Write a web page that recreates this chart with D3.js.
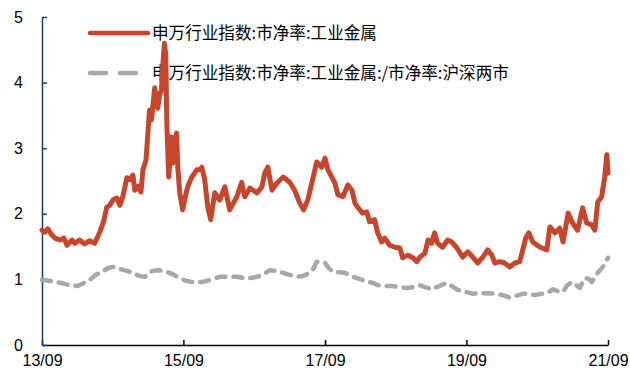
<!DOCTYPE html>
<html>
<head>
<meta charset="utf-8">
<script src="https://cdn.jsdelivr.net/npm/d3@7/dist/d3.min.js"></script>
<style>
  html, body { margin: 0; padding: 0; background: #fff; }
  svg { display: block; }
  .tick text { font-family: "Liberation Sans", Arial, sans-serif; font-size: 16px; fill: #000; }
  .legend text { font-family: "Noto Sans CJK SC", sans-serif; font-size: 16.6px; fill: #000; }
</style>
</head>
<body>
<svg id="chart" width="630" height="374"></svg>
<script>
// 申万工业金属 市净率 (PB) series
const pbDates = [
  "2013-09-01","2013-09-16","2013-10-01","2013-10-21","2013-11-07","2013-12-02","2013-12-23","2014-01-08",
  "2014-02-03","2014-02-18","2014-03-14","2014-04-09","2014-05-05","2014-05-31","2014-06-26","2014-07-16",
  "2014-08-01","2014-08-17","2014-09-02","2014-09-22","2014-10-08","2014-10-23","2014-11-13","2014-11-29",
  "2014-12-14","2014-12-24","2015-01-09","2015-01-25","2015-02-04","2015-02-20","2015-03-01","2015-03-10",
  "2015-03-20","2015-04-06","2015-04-21","2015-05-01","2015-05-11","2015-05-16","2015-05-26","2015-06-02",
  "2015-06-07","2015-06-17","2015-07-02","2015-07-07","2015-07-17","2015-07-28","2015-08-03","2015-08-13",
  "2015-08-28","2015-09-13","2015-09-23","2015-10-14","2015-11-09","2015-11-24","2015-12-05","2015-12-20",
  "2016-01-05","2016-01-20","2016-02-10","2016-03-06","2016-04-02","2016-04-27","2016-06-03","2016-06-28",
  "2016-07-14","2016-08-09","2016-09-15","2016-10-10","2016-10-25","2016-11-10","2016-12-01","2016-12-27",
  "2017-01-28","2017-03-03","2017-03-28","2017-04-24","2017-05-14","2017-06-04","2017-06-29","2017-07-20",
  "2017-08-15","2017-09-01","2017-09-16","2017-10-06","2017-10-22","2017-11-07","2017-12-02","2017-12-28",
  "2018-01-18","2018-02-03","2018-02-17","2018-03-14","2018-04-04","2018-04-19","2018-05-15","2018-05-31",
  "2018-06-20","2018-07-06","2018-08-01","2018-08-27","2018-09-22","2018-10-07","2018-11-03","2018-11-28",
  "2018-12-19","2019-01-04","2019-01-30","2019-02-15","2019-03-05","2019-03-21","2019-04-05","2019-05-01",
  "2019-05-27","2019-06-17","2019-07-12","2019-08-13","2019-09-08","2019-10-04","2019-10-29","2019-11-25",
  "2019-12-20","2020-01-10","2020-01-26","2020-02-21","2020-03-16","2020-04-12","2020-05-08","2020-06-02",
  "2020-06-18","2020-07-03","2020-07-19","2020-08-09","2020-09-15","2020-10-20","2020-11-05","2020-12-01",
  "2020-12-26","2021-01-12","2021-02-07","2021-03-02","2021-03-28","2021-04-23","2021-05-14","2021-06-09",
  "2021-06-25","2021-07-10","2021-07-30","2021-08-15","2021-08-26","2021-09-01"
];
const pbValues = [
  1.75,1.72,1.77,1.68,1.63,1.60,1.63,1.52,
  1.60,1.55,1.60,1.54,1.59,1.55,1.72,1.88,
  2.10,2.13,2.21,2.24,2.13,2.26,2.55,2.52,
  2.59,2.36,2.42,2.33,2.67,2.82,3.20,3.58,
  3.43,3.92,3.61,3.81,3.89,4.19,4.60,4.42,
  3.43,2.56,3.17,2.77,2.97,3.23,2.71,2.32,
  2.06,2.29,2.41,2.56,2.67,2.67,2.71,2.52,
  2.10,1.91,2.32,2.21,2.41,2.06,2.26,2.48,
  2.26,2.39,2.32,2.41,2.62,2.71,2.36,2.47,
  2.56,2.48,2.36,2.16,2.06,2.21,2.52,2.79,
  2.71,2.85,2.67,2.56,2.47,2.29,2.26,2.44,
  2.36,2.16,2.10,2.01,2.03,1.88,1.91,1.71,
  1.57,1.63,1.52,1.49,1.48,1.33,1.37,1.33,
  1.27,1.34,1.40,1.60,1.55,1.71,1.55,1.49,
  1.60,1.57,1.49,1.34,1.42,1.34,1.25,1.34,
  1.45,1.37,1.25,1.27,1.25,1.19,1.25,1.27,
  1.45,1.63,1.71,1.57,1.49,1.45,1.80,1.71,
  1.78,1.57,2.01,1.86,1.75,2.09,1.86,1.83,
  1.75,2.18,2.26,2.56,2.90,2.62
];

// 工业金属 PB relative to 沪深两市 PB
const ratioDates = [
  "2013-09-01","2013-10-11","2013-12-02","2014-01-23","2014-03-04","2014-04-09","2014-05-05","2014-06-05",
  "2014-07-06","2014-08-06","2014-09-02","2014-10-08","2014-11-13","2014-12-14","2015-01-19","2015-02-14",
  "2015-03-10","2015-03-26","2015-04-21","2015-05-16","2015-06-12","2015-07-07","2015-08-13","2015-09-13",
  "2015-10-14","2015-11-14","2015-12-10","2016-01-15","2016-02-10","2016-03-11","2016-04-12","2016-05-12",
  "2016-06-07","2016-07-08","2016-08-09","2016-09-15","2016-10-15","2016-11-20","2016-12-27","2017-01-28",
  "2017-03-03","2017-04-08","2017-05-09","2017-06-14","2017-07-05","2017-07-20","2017-08-10","2017-09-01",
  "2017-09-21","2017-10-12","2017-11-12","2017-12-13","2018-01-13","2018-02-13","2018-03-25","2018-04-30",
  "2018-06-05","2018-07-06","2018-08-12","2018-09-22","2018-10-28","2018-11-28","2019-01-04","2019-02-04",
  "2019-03-05","2019-04-15","2019-05-22","2019-06-17","2019-07-18","2019-08-28","2019-10-04","2019-11-09",
  "2019-12-20","2020-01-26","2020-03-07","2020-04-12","2020-05-13","2020-06-18","2020-07-19","2020-08-19",
  "2020-09-20","2020-10-20","2020-11-21","2020-12-16","2021-01-12","2021-02-02","2021-03-02","2021-03-23",
  "2021-04-08","2021-05-04","2021-05-24","2021-06-09","2021-07-10","2021-08-05","2021-08-21","2021-09-01"
];
const ratioValues = [
  0.99,0.98,0.95,0.91,0.90,0.95,0.99,1.07,
  1.11,1.17,1.19,1.16,1.13,1.10,1.05,1.04,
  1.10,1.13,1.14,1.13,1.11,1.08,1.02,0.98,
  0.96,0.96,0.96,0.99,1.02,1.04,1.04,1.04,
  1.04,1.02,1.02,1.04,1.07,1.14,1.13,1.10,
  1.07,1.04,1.05,1.10,1.17,1.27,1.27,1.25,
  1.17,1.11,1.11,1.10,1.05,1.02,0.98,0.95,
  0.91,0.90,0.90,0.88,0.87,0.88,0.91,0.88,
  0.85,0.90,0.95,0.90,0.84,0.81,0.78,0.79,
  0.79,0.78,0.76,0.72,0.75,0.78,0.78,0.76,
  0.78,0.79,0.85,0.82,0.81,0.91,0.96,0.91,
  0.87,1.02,1.01,0.96,1.10,1.19,1.27,1.33
];

const xTickDates = ["2013-09-01","2015-09-01","2017-09-01","2019-09-01","2021-09-01"];
const xTickLabels = ["13/09","15/09","17/09","19/09","21/09"];
const yTicks = [0, 1, 2, 3, 4, 5];
const seriesNames = ["申万行业指数:市净率:工业金属", "申万行业指数:市净率:工业金属:/市净率:沪深两市"];

const parse = d3.timeParse("%Y-%m-%d");
const pbData = pbDates.map((d, i) => ({ date: parse(d), value: pbValues[i] }));
const ratioData = ratioDates.map((d, i) => ({ date: parse(d), value: ratioValues[i] }));

const margin = { left: 42, top: 17, right: 22, bottom: 29 };
const width = 630, height = 374;
const svg = d3.select("#chart");

const x = d3.scaleTime()
  .domain([parse(xTickDates[0]), parse(xTickDates[xTickDates.length - 1])])
  .range([margin.left, width - margin.right]);
const y = d3.scaleLinear()
  .domain([0, 5])
  .range([height - margin.bottom, margin.top]);

// legend sits beneath the plotted lines
const legend = svg.append("g").attr("class", "legend");
const legendRows = [
  { y: 33, color: "#C8442A", dash: null, width: 4.5 },
  { y: 73, color: "#A8A8A8", dash: "16,14", width: 4.5 }
];
legendRows.forEach((r, i) => {
  legend.append("line")
    .attr("x1", 90).attr("x2", 148)
    .attr("y1", r.y).attr("y2", r.y)
    .attr("stroke", r.color)
    .attr("stroke-width", r.width)
    .attr("stroke-linecap", "round")
    .attr("stroke-dasharray", r.dash);
  legend.append("text")
    .attr("x", 152).attr("y", r.y)
    .attr("dy", "0.36em")
    .text(seriesNames[i]);
});

// axes
const xAxis = d3.axisBottom(x)
  .tickValues(xTickDates.map(parse))
  .tickFormat((d, i) => xTickLabels[i])
  .tickSizeInner(-5)
  .tickSizeOuter(0)
  .tickPadding(10);
const gx = svg.append("g")
  .attr("transform", `translate(0,${height - margin.bottom})`)
  .call(xAxis);
gx.select(".domain").attr("stroke", "#000").attr("stroke-width", 1.5);
gx.selectAll(".tick line").attr("stroke", "#000").attr("stroke-width", 1.5);

const yAxis = d3.axisLeft(y)
  .tickValues(yTicks)
  .tickFormat(d3.format("d"))
  .tickSizeInner(-5)
  .tickSizeOuter(0)
  .tickPadding(19);
const gy = svg.append("g")
  .attr("transform", `translate(${margin.left},0)`)
  .call(yAxis);
gy.select(".domain").attr("stroke", "#1F3A7A").attr("stroke-width", 1.5);
gy.selectAll(".tick line").attr("stroke", "#1F3A7A").attr("stroke-width", 1.5);

// series lines
const line = d3.line()
  .x(d => x(d.date))
  .y(d => y(d.value));

svg.append("path")
  .datum(ratioData)
  .attr("fill", "none")
  .attr("stroke", "#A8A8A8")
  .attr("stroke-width", 4.5)
  .attr("stroke-dasharray", "9,8")
  .attr("stroke-linecap", "round")
  .attr("stroke-linejoin", "round")
  .attr("d", line);

svg.append("path")
  .datum(pbData)
  .attr("fill", "none")
  .attr("stroke", "#C8442A")
  .attr("stroke-width", 5)
  .attr("stroke-linejoin", "round")
  .attr("stroke-linecap", "round")
  .attr("d", line);
</script>
</body>
</html>
